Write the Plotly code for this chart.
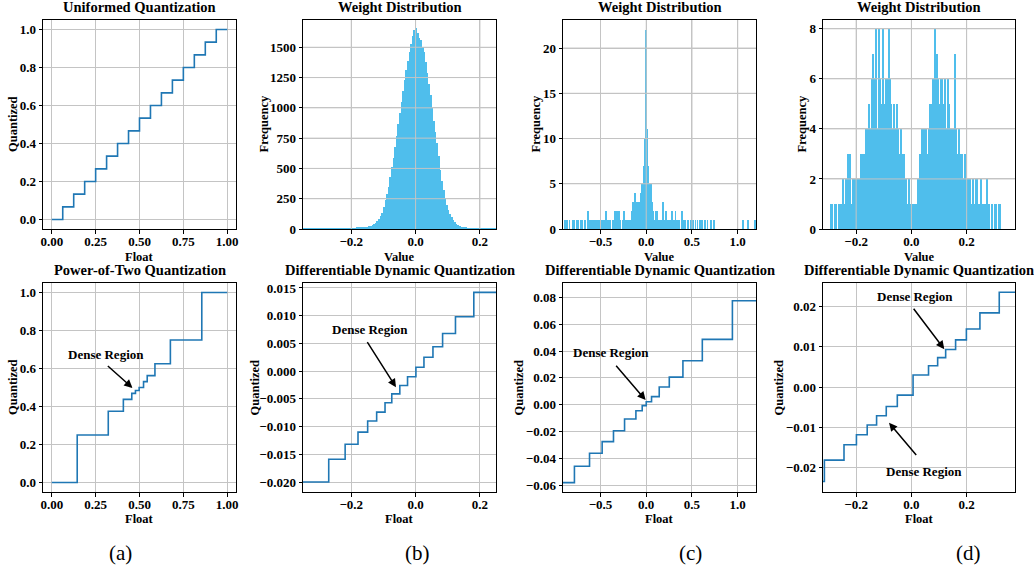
import plotly.graph_objects as go
from plotly.subplots import make_subplots

W, H = 1034, 571

# ---------------- data ----------------
# (a) top: uniform quantization (step start positions, levels)
uni_x = [0.0, 0.0625, 0.125, 0.1875, 0.25, 0.3125, 0.375, 0.4375, 0.5, 0.5625,
         0.625, 0.6875, 0.75, 0.8125, 0.875, 0.9375, 1.0]
uni_q = [0.0, 0.0667, 0.1333, 0.2, 0.2667, 0.3333, 0.4, 0.4667, 0.5333, 0.6,
         0.6667, 0.7333, 0.8, 0.8667, 0.9333, 1.0, 1.0]

# (a) bottom: power-of-two quantization
pot_x = [0.0, 0.145, 0.322, 0.408, 0.456, 0.477, 0.498, 0.523, 0.544, 0.588, 0.676, 0.855, 1.0]
pot_q = [0.0, 0.25, 0.375, 0.4375, 0.469, 0.484, 0.5, 0.531, 0.5625, 0.625, 0.75, 1.0, 1.0]

# (b) bottom: differentiable dynamic quantization
ddq_b_x = [-0.35, -0.270, -0.219, -0.179, -0.149, -0.121, -0.095, -0.074, -0.049,
           -0.025, 0.001, 0.026, 0.054, 0.084, 0.124, 0.181, 0.25]
ddq_b_q = [-0.0200, -0.0159, -0.0132, -0.0110, -0.0090, -0.0074, -0.0057, -0.0041,
           -0.0026, -0.0010, 0.0007, 0.0025, 0.0044, 0.0068, 0.0098, 0.0142, 0.0142]

# (c) bottom
ddq_c_x = [-0.91, -0.785, -0.620, -0.482, -0.358, -0.237, -0.113, -0.044, 0.000,
           0.058, 0.142, 0.252, 0.401, 0.613, 0.942, 1.2]
ddq_c_q = [-0.0582, -0.0460, -0.0363, -0.0276, -0.0194, -0.0107, -0.0045, -0.0007,
           0.0022, 0.0060, 0.0132, 0.0206, 0.0328, 0.0488, 0.0776, 0.0776]

# (d) bottom
ddq_d_x = [-0.32, -0.315, -0.244, -0.199, -0.160, -0.126, -0.091, -0.051, 0.006,
           0.062, 0.095, 0.124, 0.160, 0.199, 0.248, 0.318, 0.375]
ddq_d_q = [-0.0234, -0.0181, -0.0143, -0.0118, -0.0094, -0.0071, -0.0048, -0.0020,
           0.0030, 0.0053, 0.0073, 0.0093, 0.0117, 0.0144, 0.0184, 0.0235, 0.0235]

# (b) top: histogram, bins of 0.005 starting at -0.35
hist_b_start, hist_b_width = -0.35, 0.005
hist_b_counts = [
    2, 3, 2, 2, 3, 3, 2, 3, 3, 3,
    3, 3, 4, 3, 4, 4, 3, 4, 4, 4,
    4, 5, 5, 4, 5, 6, 5, 6, 6, 7,
    7, 8, 8, 9, 10, 11, 12, 14, 15, 17,
    20, 24, 28, 34, 42, 52, 62, 80, 104, 135,
    180, 240, 290, 350, 430, 510, 590, 680, 770, 865,
    960, 1050, 1140, 1230, 1310, 1390, 1460, 1530, 1590, 1640,
    1655, 1620, 1580, 1560, 1500, 1460, 1380, 1290, 1200, 1110,
    1000, 890, 800, 710, 600, 490, 400, 320, 260, 200,
    160, 125, 95, 75, 58, 45, 35, 27, 20, 15,
    11, 9, 8, 7, 6, 6, 5, 5, 4, 4,
    4, 3, 3, 3, 3, 2, 3, 2, 2, 2,
]

# (c) top: sparse histogram (bin centre, count), bin width 0.01
hist_c_bins = [
    (-0.89, 1), (-0.87, 1), (-0.84, 1), (-0.80, 1), (-0.79, 1), (-0.76, 1), (-0.74, 1),
    (-0.72, 1), (-0.70, 1), (-0.67, 1), (-0.64, 2), (-0.62, 1), (-0.60, 1), (-0.58, 1),
    (-0.56, 1), (-0.54, 1), (-0.53, 1), (-0.51, 1), (-0.49, 1), (-0.48, 1), (-0.46, 1),
    (-0.44, 2), (-0.43, 1), (-0.41, 1), (-0.39, 1), (-0.37, 1), (-0.36, 1), (-0.34, 2),
    (-0.33, 1), (-0.32, 2), (-0.30, 2), (-0.29, 1), (-0.28, 1), (-0.26, 1), (-0.25, 1),
    (-0.24, 2), (-0.23, 1), (-0.22, 1), (-0.21, 1), (-0.20, 1), (-0.19, 1), (-0.18, 1),
    (-0.17, 1), (-0.16, 2), (-0.15, 3), (-0.14, 2), (-0.13, 3), (-0.12, 4), (-0.11, 3),
    (-0.10, 2), (-0.09, 3), (-0.08, 2), (-0.07, 3), (-0.06, 4), (-0.05, 5), (-0.04, 4),
    (-0.03, 7), (-0.02, 6), (-0.01, 10), (0.00, 22), (0.01, 11), (0.02, 7), (0.03, 5),
    (0.04, 3), (0.05, 5), (0.06, 3), (0.07, 2), (0.08, 2), (0.09, 1), (0.10, 2),
    (0.11, 1), (0.12, 2), (0.13, 1), (0.14, 1), (0.16, 1), (0.18, 3), (0.20, 1),
    (0.22, 2), (0.24, 1), (0.26, 1), (0.28, 2), (0.30, 1), (0.32, 2), (0.34, 1),
    (0.36, 1), (0.39, 2), (0.41, 1), (0.43, 1), (0.46, 1), (0.49, 1), (0.51, 1),
    (0.54, 1), (0.56, 1), (0.59, 1), (0.61, 1), (0.64, 1), (0.67, 1), (0.71, 1),
    (0.74, 1), (1.06, 1), (1.11, 1), (1.19, 1),
]
hist_c_width = 0.01

# (d) top: histogram, bins of 0.005 starting at -0.32
hist_d_start, hist_d_width = -0.32, 0.005
hist_d_counts = [
    0, 0, 0, 0, 0, 1, 1, 0, 1, 1,
    0, 1, 1, 1, 2, 1, 2, 1, 3, 3,
    1, 2, 1, 2, 2, 2, 2, 3, 3, 3,
    3, 4, 4, 5, 4, 6, 7, 6, 8, 4,
    8, 6, 5, 8, 5, 6, 6, 8, 6, 5,
    4, 5, 4, 5, 4, 3, 4, 3, 3, 2,
    2, 1, 2, 1, 1, 1, 1, 1, 2, 2,
    3, 4, 3, 4, 4, 3, 4, 5, 5, 6,
    6, 8, 7, 6, 5, 6, 6, 5, 6, 4,
    6, 5, 4, 3, 4, 7, 4, 3, 4, 3,
    3, 2, 3, 2, 2, 2, 2, 1, 2, 1,
    2, 2, 1, 1, 2, 1, 1, 1, 2, 1,
    1, 0, 1, 0, 1, 1, 0, 1, 1, 0,
    0, 0, 0, 0, 0, 0, 0, 0, 0,
]

titles_top = ["Uniformed Quantization", "Weight Distribution", "Weight Distribution", "Weight Distribution"]
titles_bot = ["Power-of-Two Quantization", "Differentiable Dynamic Quantization",
              "Differentiable Dynamic Quantization", "Differentiable Dynamic Quantization"]
captions = ["(a)", "(b)", "(c)", "(d)"]

# ---------------- layout geometry (pixels in the screenshot) ----------------
cols_px = [(43, 236), (303, 496), (563, 756), (823, 1015)]
rows_px = [(20, 229), (283, 492)]
ylab_x_top = [12.5, 263, 535, 801]
ylab_x_bot = [12.5, 254, 518, 778]
caption_x = [120, 417, 690, 968]
xlab_y = [257, 519]


def fx(px):
    return px / W


def fy(py):
    return 1 - py / H


LINE = "#1f77b4"
BAR = "#4FBEEC"
GRID = "#c4c4c4"
FONT = "Liberation Serif"

fig = make_subplots(rows=2, cols=4)


def centers(start, width, counts):
    return [start + width * (i + 0.5) for i in range(len(counts))]


# step lines
for (r, c), (xs_, qs_) in {(1, 1): (uni_x, uni_q), (2, 1): (pot_x, pot_q), (2, 2): (ddq_b_x, ddq_b_q),
                           (2, 3): (ddq_c_x, ddq_c_q), (2, 4): (ddq_d_x, ddq_d_q)}.items():
    fig.add_trace(go.Scatter(x=xs_, y=qs_, mode="lines",
                             line=dict(color=LINE, width=1.6, shape="hv")), r, c)

# histograms
fig.add_trace(go.Bar(x=centers(hist_b_start, hist_b_width, hist_b_counts), y=hist_b_counts,
                     width=hist_b_width, marker=dict(color=BAR, line=dict(width=0))), 1, 2)
fig.add_trace(go.Bar(x=[b[0] for b in hist_c_bins], y=[b[1] for b in hist_c_bins],
                     width=hist_c_width * 0.8, marker=dict(color=BAR, line=dict(width=0))), 1, 3)
fig.add_trace(go.Bar(x=centers(hist_d_start, hist_d_width, hist_d_counts), y=hist_d_counts,
                     width=hist_d_width * 0.85, marker=dict(color=BAR, line=dict(width=0))), 1, 4)

tickfont = dict(family=FONT, size=13, color="black", weight="bold")
base = dict(showline=True, linecolor="black", linewidth=1, mirror=True, ticks="outside",
            ticklen=3.5, tickcolor="black", tickwidth=1, showgrid=True, gridcolor=GRID,
            gridwidth=1, zeroline=False, tickfont=tickfont, automargin=False)

# axis specs: (xrange, xticks, xfmt, yrange, yticks, yfmt)
specs = {
    (1, 1): ([-0.05, 1.05], [0, 0.25, 0.5, 0.75, 1.0], ".2f", [-0.05, 1.05], [0, 0.2, 0.4, 0.6, 0.8, 1.0], ".1f"),
    (1, 2): ([-0.35, 0.25], [-0.2, 0.0, 0.2], ".1f", [0, 1725], [0, 250, 500, 750, 1000, 1250, 1500], "d"),
    (1, 3): ([-0.91, 1.2], [-0.5, 0.0, 0.5, 1.0], ".1f", [0, 23.1], [0, 5, 10, 15, 20], "d"),
    (1, 4): ([-0.32, 0.375], [-0.2, 0.0, 0.2], ".1f", [0, 8.35], [0, 2, 4, 6, 8], "d"),
    (2, 1): ([-0.05, 1.05], [0, 0.25, 0.5, 0.75, 1.0], ".2f", [-0.05, 1.05], [0, 0.2, 0.4, 0.6, 0.8, 1.0], ".1f"),
    (2, 2): ([-0.35, 0.25], [-0.2, 0.0, 0.2], ".1f", [-0.0218, 0.0159],
             [-0.02, -0.015, -0.01, -0.005, 0.0, 0.005, 0.01, 0.015], ".3f"),
    (2, 3): ([-0.91, 1.2], [-0.5, 0.0, 0.5, 1.0], ".1f", [-0.0652, 0.0909],
             [-0.06, -0.04, -0.02, 0.0, 0.02, 0.04, 0.06, 0.08], ".2f"),
    (2, 4): ([-0.32, 0.375], [-0.2, 0.0, 0.2], ".1f", [-0.026, 0.0258],
             [-0.02, -0.01, 0.0, 0.01, 0.02], ".2f"),
}

shapes = []
annotations = []
for (r, c), (xr, xt, xf, yr, yt, yf) in specs.items():
    idx = (r - 1) * 4 + c
    x0, x1 = cols_px[c - 1]
    y0, y1 = rows_px[r - 1]
    fig.update_xaxes(base, range=xr, tickvals=xt, tickformat=xf, ticklabelstandoff=-3,
                     domain=[fx(x0), fx(x1)], row=r, col=c)
    fig.update_yaxes(base, range=yr, tickvals=yt, tickformat=yf,
                     domain=[fy(y1), fy(y0)], row=r, col=c)
    xs = "x" if idx == 1 else f"x{idx}"
    ys = "y" if idx == 1 else f"y{idx}"
    if r == 1 and c > 1:
        # matplotlib draws the grid above histogram patches
        for v in xt:
            shapes.append(dict(type="line", xref=xs, yref=f"{ys} domain", x0=v, x1=v, y0=0, y1=1,
                               line=dict(color=GRID, width=1), layer="above"))
        for v in yt[1:]:
            shapes.append(dict(type="line", xref=f"{xs} domain", yref=ys, x0=0, x1=1, y0=v, y1=v,
                               line=dict(color=GRID, width=1), layer="above"))
    # title
    title = titles_top[c - 1] if r == 1 else titles_bot[c - 1]
    annotations.append(dict(text=title, x=fx((x0 + x1) / 2), y=fy(y0 - 3), xref="paper", yref="paper",
                            xanchor="center", yanchor="bottom", showarrow=False,
                            font=dict(family=FONT, size=14.5, color="black", weight="bold")))
    # x label
    xl = "Float" if (r == 2 or c == 1) else "Value"
    annotations.append(dict(text=xl, x=fx((x0 + x1) / 2), y=fy(xlab_y[r - 1]), xref="paper",
                            yref="paper", xanchor="center", yanchor="middle", showarrow=False,
                            font=dict(family=FONT, size=12.5, color="black", weight="bold")))
    # y label
    yl = "Quantized" if (r == 2 or c == 1) else "Frequency"
    ylx = ylab_x_top[c - 1] if r == 1 else ylab_x_bot[c - 1]
    annotations.append(dict(text=yl, x=fx(ylx), y=fy((y0 + y1) / 2), xref="paper", yref="paper",
                            xanchor="center", yanchor="middle", textangle=-90, showarrow=False,
                            font=dict(family=FONT, size=12.5, color="black", weight="bold")))

for i, cap in enumerate(captions):
    annotations.append(dict(text=cap, x=fx(caption_x[i]), y=fy(553), xref="paper", yref="paper",
                            xanchor="center", yanchor="middle", showarrow=False,
                            font=dict(family=FONT, size=21, color="black")))

# "Dense Region" annotations: (axis index, text xy, arrow tail xy, arrow head xy)
dense = [
    (5, (0.311, 0.673), (0.311, 0.62), (0.46, 0.498)),
    (6, (-0.142, 0.0075), (-0.153, 0.0055), (-0.061, -0.0029)),
    (7, (-0.39, 0.0388), (-0.343, 0.0303), (-0.007, 0.0035)),
    (8, (0.013, 0.02246), (0.004, 0.0198), (0.119, 0.0094)),
    (8, (0.046, -0.0208), (0.022, -0.0172), (-0.081, -0.00885)),
]
for idx, txy, tail, head in dense:
    xs, ys = f"x{idx}", f"y{idx}"
    annotations.append(dict(text="Dense Region", x=txy[0], y=txy[1], xref=xs, yref=ys,
                            xanchor="center", yanchor="middle", showarrow=False,
                            font=dict(family=FONT, size=13, color="black", weight="bold")))
    annotations.append(dict(text="", x=head[0], y=head[1], ax=tail[0], ay=tail[1],
                            xref=xs, yref=ys, axref=xs, ayref=ys, showarrow=True,
                            arrowhead=2, arrowsize=1.1, arrowwidth=1.5, arrowcolor="black",
                            standoff=0, startstandoff=0))

fig.update_layout(width=W, height=H, margin=dict(l=0, r=0, t=0, b=0),
                  paper_bgcolor="white", plot_bgcolor="white", showlegend=False,
                  bargap=0, shapes=shapes, annotations=annotations,
                  font=dict(family=FONT, color="black"))

# remove the page's default body margin so the figure fills the window exactly
fig.write_html("out.html", config={"displayModeBar": False},
               post_script="document.body.style.margin='0';document.body.style.overflow='hidden';")
